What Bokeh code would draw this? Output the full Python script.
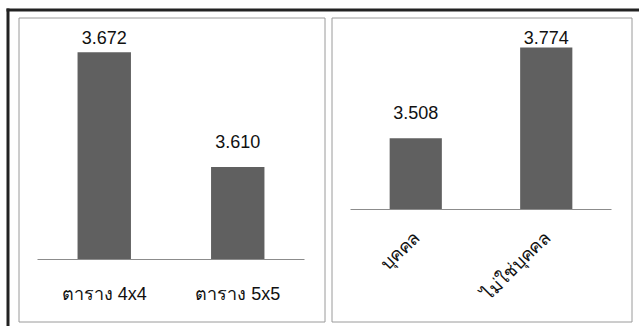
from math import pi

from bokeh.core.properties import value
from bokeh.embed import file_html
from bokeh.models import ColumnDataSource, Range1d
from bokeh.plotting import figure
from bokeh.resources import INLINE

# Mean scores by grid size
grid_cats = ["ตาราง 4x4", "ตาราง 5x5"]
grid_vals = [3.672, 3.610]

# Mean scores by respondent type
person_cats = ["บุคคล", "ไม่ใช่บุคคล"]
person_vals = [3.508, 3.774]

# value-axis limits for each panel
grid_lims = (3.56, 3.68)
person_lims = (3.30, 3.80)

# how far each value label is raised above its bar (px)
grid_lift = [15, 26]
person_lift = [26, 10]

W, H = 639, 326
BAR = "#606060"
PANEL = "#9a9a9a"
FRAME = "#222222"
AXIS = "#8c8c8c"
INK = "#111111"
FONT = value("Arial")

p = figure(width=W, height=H, x_range=Range1d(0, W), y_range=Range1d(H, 0),
           output_backend="svg", toolbar_location=None, title=None,
           x_axis_location=None, y_axis_location=None, min_border=0)
p.outline_line_color = None
p.xgrid.visible = False
p.ygrid.visible = False
p.background_fill_color = "white"
p.border_fill_color = "white"

# heavy outer frame: one rule along the top, one down the left side
p.segment(x0=[6, 7.5], y0=[9.5, 8], x1=[W, 7.5], y1=[9.5, H],
          line_color=FRAME, line_width=3, line_cap="butt")

# the two panel boxes
p.quad(left=[18.5, 331.5], right=[324.5, 631.5], top=[17.5, 17.5],
       bottom=[321.5, 321.5], fill_color=None, line_color=PANEL, line_width=1)


def add_panel(name, cats, vals, lims, lift, area, rotate):
    """Draw one bar panel; area = (x0, x1, y_top, y_base) of its plot area."""
    x0, x1, y_top, y_base = area
    n = len(cats)
    slot = (x1 - x0) / n
    xs = x0 / slot + 0.5
    p.extra_x_ranges[name] = Range1d(-xs, -xs + W / slot)
    k = (y_base - y_top) / (lims[1] - lims[0])
    top = lims[1] + y_top / k
    p.extra_y_ranges[name] = Range1d(top - H / k, top)

    idx = list(range(n))
    src = ColumnDataSource(dict(i=idx, cat=cats, val=vals,
                                txt=[f"{v:.3f}" for v in vals],
                                lift=[-d for d in lift]))
    kw = dict(x_range_name=name, y_range_name=name)

    p.vbar(x="i", top="val", bottom=lims[0], width=0.4, source=src,
           fill_color=BAR, line_color=None, **kw)
    # category axis line
    p.segment(x0=-0.5, x1=n - 0.5, y0=lims[0], y1=lims[0],
              line_color=AXIS, line_width=1, **kw)
    # value labels
    p.text(x="i", y="val", text="txt", y_offset="lift", source=src,
           text_align="center", text_baseline="alphabetic", text_font=FONT,
           text_font_size="18px", text_color=INK, **kw)
    # category labels
    if rotate:
        p.text(x="i", y=lims[0], text="cat", source=src, angle=pi / 4,
               x_offset=1, y_offset=25, text_align="right",
               text_baseline="middle", text_font=FONT,
               text_font_size="18px", text_color=INK, **kw)
    else:
        p.text(x="i", y=lims[0], text="cat", source=src, y_offset=34,
               text_align="center", text_baseline="alphabetic",
               text_font=FONT, text_font_size="18px", text_color=INK, **kw)


add_panel("grid", grid_cats, grid_vals, grid_lims, grid_lift,
          (37, 304, 37, 259), False)
add_panel("person", person_cats, person_vals, person_lims, person_lift,
          (350, 611, 38, 209), True)

open("out.html", "w").write(file_html(p, INLINE))
